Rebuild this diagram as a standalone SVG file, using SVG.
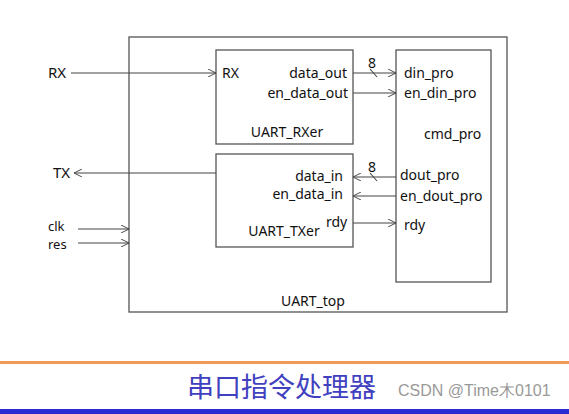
<svg xmlns="http://www.w3.org/2000/svg" width="569" height="414" viewBox="0 0 569 414">
<style>
.box{fill:none;stroke:#555;stroke-width:1.3}
.ln{fill:none;stroke:#444;stroke-width:1.1}
.t{font-family:"Noto Sans","Liberation Sans",sans-serif;font-size:14px;fill:#111}
.ts{font-family:"Noto Sans","Liberation Sans",sans-serif;font-size:13px;fill:#111}
.tl{font-family:"Noto Sans","Liberation Sans",sans-serif;font-size:15px;fill:#111}
</style>
<defs>
<marker id="ah" viewBox="0 0 10 10" refX="10" refY="5" markerWidth="8" markerHeight="8" markerUnits="userSpaceOnUse" orient="auto">
<path d="M0,0 L10,5 L0,10" fill="none" stroke="#444" stroke-width="1.2"/>
</marker>
</defs>
<rect width="569" height="414" fill="#fff"/>
<g id="UART_top">
<rect class="box" x="129" y="37" width="378" height="275"/>
<text class="t" x="313" y="306" text-anchor="middle">UART_top</text>
</g>
<g id="UART_RXer">
<rect class="box" x="216" y="50" width="137" height="94"/>
<text class="t" x="222" y="78">RX</text>
<text class="t" x="347" y="78" text-anchor="end">data_out</text>
<text class="t" x="348" y="98" text-anchor="end">en_data_out</text>
<text class="t" x="287" y="137" text-anchor="middle">UART_RXer</text>
</g>
<g id="UART_TXer">
<rect class="box" x="216" y="154" width="137" height="93"/>
<text class="t" x="343" y="181" text-anchor="end">data_in</text>
<text class="t" x="343" y="199" text-anchor="end">en_data_in</text>
<text class="t" x="326" y="227">rdy</text>
<text class="t" x="284" y="236" text-anchor="middle">UART_TXer</text>
</g>
<g id="cmd_pro">
<rect class="box" x="396" y="50" width="95" height="232"/>
<text class="t" x="404" y="78">din_pro</text>
<text class="t" x="404" y="98">en_din_pro</text>
<text class="t" x="424" y="139">cmd_pro</text>
<text class="t" x="400" y="180">dout_pro</text>
<text class="t" x="400" y="201">en_dout_pro</text>
<text class="t" x="404" y="230">rdy</text>
</g>
<g id="ports">
<text class="tl" x="48" y="78">RX</text>
<text class="tl" x="53" y="178">TX</text>
<text class="ts" x="48" y="231">clk</text>
<text class="ts" x="48" y="249">res</text>
</g>
<g id="connectors">
<line class="ln" x1="71" y1="73" x2="216" y2="73" marker-end="url(#ah)"/>
<line class="ln" x1="216" y1="173" x2="74" y2="173" marker-end="url(#ah)"/>
<line class="ln" x1="78" y1="229" x2="129" y2="229" marker-end="url(#ah)"/>
<line class="ln" x1="78" y1="243" x2="129" y2="243" marker-end="url(#ah)"/>
<line class="ln" x1="353" y1="73" x2="396" y2="73" marker-end="url(#ah)"/>
<line class="ln" x1="370" y1="69" x2="377" y2="77"/>
<text class="t" x="368" y="68">8</text>
<line class="ln" x1="353" y1="93" x2="396" y2="93" marker-end="url(#ah)"/>
<line class="ln" x1="396" y1="177" x2="353" y2="177" marker-end="url(#ah)"/>
<line class="ln" x1="370" y1="173" x2="377" y2="181"/>
<text class="t" x="368" y="172">8</text>
<line class="ln" x1="396" y1="196" x2="353" y2="196" marker-end="url(#ah)"/>
<line class="ln" x1="353" y1="223" x2="396" y2="223" marker-end="url(#ah)"/>
</g>
<g id="footer">
<rect x="0" y="361" width="569" height="3" fill="#ed9a58"/>
<text x="187" y="397" font-family="'Noto Sans CJK SC',sans-serif" font-size="27" fill="#4040c0">串口指令处理器</text>
<text x="398" y="396" font-family="'Liberation Sans',sans-serif" font-size="16" fill="#999">CSDN @Time木0101</text>
<rect x="0" y="409" width="569" height="5" fill="#2b2bd6"/>
</g>
</svg>
